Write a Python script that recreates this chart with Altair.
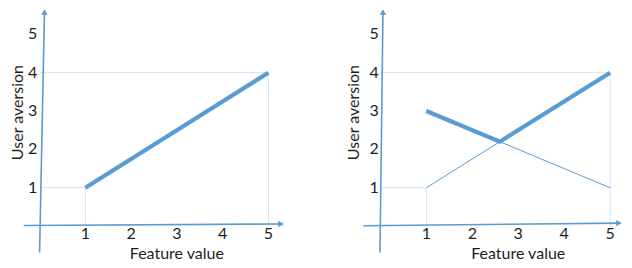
import altair as alt
import pandas as pd

# ---------------- data ----------------
x_ticks = [1, 2, 3, 4, 5]
y_ticks = [1, 2, 3, 4, 5]
tick_labels = ["1", "2", "3", "4", "5"]
x_title = "Feature value"
y_title = "User aversion"

# left panel: single increasing aversion
left_x = [1, 5]
left_y = [1, 4]

# right panel: two features and their upper envelope
rise_x = [1, 5]
rise_y = [1, 4]
fall_x = [1, 5]
fall_y = [3, 1]
upper_x = [1, 2.6, 5]
upper_y = [3, 2.2, 4]

# guide lines to the end values
guide_low_x = [0, 1, 1]
guide_low_y = [1, 1, 0]
guide_high_x = [0, 5, 5]
guide_high_y = [4, 4, 0]

# hand-drawn axis arrows (data units), slightly tilted
left_yaxis_x = [0.0, 0.106]
left_yaxis_y = [-0.686, 5.60]
left_yhead = (0.106, 5.581)
left_xaxis_x = [-0.348, 5.30]
left_xaxis_y = [0.016, 0.056]
left_xhead = (5.278, 0.056)

right_yaxis_x = [-0.009, 0.056]
right_yaxis_y = [-0.686, 5.60]
right_yhead = (0.056, 5.581)
right_xaxis_x = [-0.370, 5.22]
right_xaxis_y = [0.008, 0.078]
right_xhead = (5.194, 0.078)

BLUE = "#5b9bd5"
GUIDE = "#d2e2f3"
TEXT = "#1e1e1e"
FONT = "Lato"
FS = 16

Y_DOMAIN = [-0.8837, 5.6856]
H = 252


def panel(width, xdom, thin, thick, yaxis, xaxis, yhead, xhead, ylabel_x, ytitle_x):
    def X(f="x"):
        return alt.X(f"{f}:Q", scale=alt.Scale(domain=xdom, zero=False, nice=False), axis=None)

    def Y(f="y"):
        return alt.Y(f"{f}:Q", scale=alt.Scale(domain=Y_DOMAIN, zero=False, nice=False), axis=None)

    def line_df(xv, yv):
        return pd.DataFrame({"x": xv, "y": yv, "i": list(range(len(xv)))})

    layers = []
    for gx, gy in [(guide_low_x, guide_low_y), (guide_high_x, guide_high_y)]:
        layers.append(
            alt.Chart(line_df(gx, gy)).mark_line(color=GUIDE, strokeWidth=1, clip=True)
            .encode(x=X(), y=Y(), order="i:Q")
        )
    # axes
    for ax in [yaxis, xaxis]:
        layers.append(
            alt.Chart(line_df(ax[0], ax[1])).mark_line(color=BLUE, strokeWidth=1.6, clip=True)
            .encode(x=X(), y=Y(), order="i:Q")
        )
    # arrow heads
    layers.append(
        alt.Chart(pd.DataFrame({"x": [yhead[0]], "y": [yhead[1]]}))
        .mark_point(filled=True, color=BLUE, opacity=1, size=42, shape="triangle-up", angle=1.2,
                    clip=True)
        .encode(x=X(), y=Y())
    )
    layers.append(
        alt.Chart(pd.DataFrame({"x": [xhead[0]], "y": [xhead[1]]}))
        .mark_point(filled=True, color=BLUE, opacity=1, size=42, shape="triangle-right",
                    angle=359.5, clip=True)
        .encode(x=X(), y=Y())
    )
    for lx, ly in thin:
        layers.append(
            alt.Chart(line_df(lx, ly)).mark_line(color=BLUE, strokeWidth=1, clip=True)
            .encode(x=X(), y=Y(), order="i:Q")
        )
    for lx, ly in thick:
        layers.append(
            alt.Chart(line_df(lx, ly)).mark_line(color=BLUE, strokeWidth=4.2, strokeCap="butt",
                                                 strokeJoin="miter", clip=True)
            .encode(x=X(), y=Y(), order="i:Q")
        )
    # tick labels
    layers.append(
        alt.Chart(pd.DataFrame({"x": x_ticks, "t": tick_labels}))
        .transform_calculate(y="-0.21")
        .mark_text(font=FONT, fontSize=FS, color=TEXT, baseline="middle", align="center", clip=True)
        .encode(x=X(), y=Y(), text="t:N")
    )
    layers.append(
        alt.Chart(pd.DataFrame({"y": y_ticks, "t": tick_labels}))
        .transform_calculate(x=str(ylabel_x))
        .mark_text(font=FONT, fontSize=FS, color=TEXT, baseline="middle", align="center", clip=True)
        .encode(x=X(), y=Y(), text="t:N")
    )
    # titles
    layers.append(
        alt.Chart(pd.DataFrame({"t": [x_title]}))
        .transform_calculate(x="3", y="-0.85")
        .mark_text(font=FONT, fontSize=FS, color=TEXT, baseline="alphabetic", align="center",
                   clip=True)
        .encode(x=X(), y=Y(), text="t:N")
    )
    layers.append(
        alt.Chart(pd.DataFrame({"t": [y_title]}))
        .transform_calculate(x=str(ytitle_x), y="2.96")
        .mark_text(font=FONT, fontSize=FS, color=TEXT, baseline="alphabetic", align="center",
                   angle=270, clip=True)
        .encode(x=X(), y=Y(), text="t:N")
    )
    return alt.layer(*layers).properties(width=width, height=H)


left = panel(
    308, [-0.6906, 6.0402],
    thin=[],
    thick=[(left_x, left_y)],
    yaxis=(left_yaxis_x, left_yaxis_y),
    xaxis=(left_xaxis_x, left_xaxis_y),
    yhead=left_yhead, xhead=left_xhead,
    ylabel_x=-0.15, ytitle_x=-0.355,
)
right = panel(
    308, [-1.4018, 5.3026],
    thin=[(rise_x, rise_y), (fall_x, fall_y)],
    thick=[(upper_x, upper_y)],
    yaxis=(right_yaxis_x, right_yaxis_y),
    xaxis=(right_xaxis_x, right_xaxis_y),
    yhead=right_yhead, xhead=right_xhead,
    ylabel_x=-0.137, ytitle_x=-0.455,
)

chart = (
    alt.hconcat(left, right, spacing=0, bounds="flush")
    .resolve_scale(x="independent", y="independent")
    .properties(padding=0)
    .configure_view(stroke=None)
)

chart.save("out.html", embed_options={"renderer": "svg", "actions": False})
